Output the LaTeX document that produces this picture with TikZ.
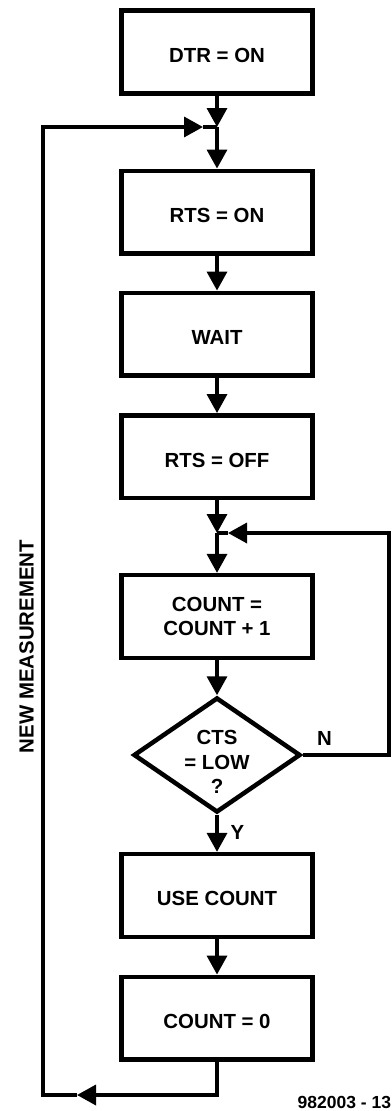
\documentclass[tikz,border=0pt]{standalone}
\usepackage{fontspec}
\setmainfont{Liberation Sans}
\usetikzlibrary{arrows.meta,shapes.geometric,calc}

\begin{document}
\begin{tikzpicture}[
    x=1pt, y=-1pt,
    txt/.style={font=\fontsize{20.4}{24.5}\selectfont\bfseries, inner sep=0pt},
    stepbox/.style={txt, draw, line width=4.5pt, minimum width=191pt,
                    minimum height=82.8pt, align=center},
    onebox/.style={stepbox, text height=20.6pt, text depth=0pt},
    decision/.style={draw, diamond, line width=4.5pt, minimum width=167pt,
                     minimum height=115pt, inner sep=0pt},
    wire/.style={line width=3.5pt},
    flow/.style={wire, -{Triangle[length=19pt,width=20pt]}},
  ]
  \useasboundingbox (0,0) rectangle (391,1111);

  % process steps
  \node[onebox]   (dtr)    at (217,52.1)   {DTR = ON};
  \node[onebox]   (rtson)  at (217,212.2)  {RTS = ON};
  \node[onebox]   (wait)   at (217,334.2)  {WAIT};
  \node[onebox]   (rtsoff) at (217,456.7)  {RTS = OFF};
  \node[stepbox]  (count)  at (217,616.5)  {COUNT =\\COUNT + 1};
  \node[decision] (cts)    at (217,755)    {};
  \node[txt, align=center] (ctsq) at (217,762) {CTS\\= LOW\\?};
  \node[onebox]   (use)    at (217,895.5)  {USE COUNT};
  \node[onebox]   (zero)   at (217,1018.2) {COUNT = 0};

  % junctions and loop corners
  \coordinate (j1) at (217,127);
  \coordinate (j2) at (217,533);
  \coordinate (lbot) at (43,1095);
  \coordinate (ltip) at (77,1095);
  \coordinate (ltop) at (43,127);
  \coordinate (ltiptop) at (203,127);
  \coordinate (rtop) at (389,533);
  \coordinate (rtip) at (228,533);

  % main flow
  \draw[flow] (dtr.south) -- (j1);
  \draw[flow] (j1) -- (rtson.north);
  \draw[flow] (rtson.south) -- (wait.north);
  \draw[flow] (wait.south) -- (rtsoff.north);
  \draw[flow] (rtsoff.south) -- (j2);
  \draw[flow] (j2) -- (count.north);
  \draw[flow] (count.south) -- (cts.north);
  \draw[flow] (cts.south) -- (use.north);
  \draw[flow] (use.south) -- (zero.north);

  % outer loop: new measurement
  \draw[flow] (zero.south) |- (ltip);
  \draw[flow] (ltip) -- (lbot) -- (ltop) -- (ltiptop);
  \draw[wire] (ltiptop) -- (j1);

  % inner loop: CTS not low
  \draw[flow] (cts.east) -| (rtop) -- (rtip);
  \draw[wire] (rtip) -- (j2);

  % labels
  \node[txt] (nlbl) at (324.5,738.8) {N};
  \node[txt] (ylbl) at (237.5,832.9) {Y};
  \node[txt, rotate=90] (newm) at (26.7,646.5) {NEW MEASUREMENT};
  \node[font=\fontsize{17.5}{20}\selectfont\bfseries, inner sep=0pt,
        anchor=base west] (fig) at (297.5,1108.3) {982003 - 13};
\end{tikzpicture}
\end{document}
